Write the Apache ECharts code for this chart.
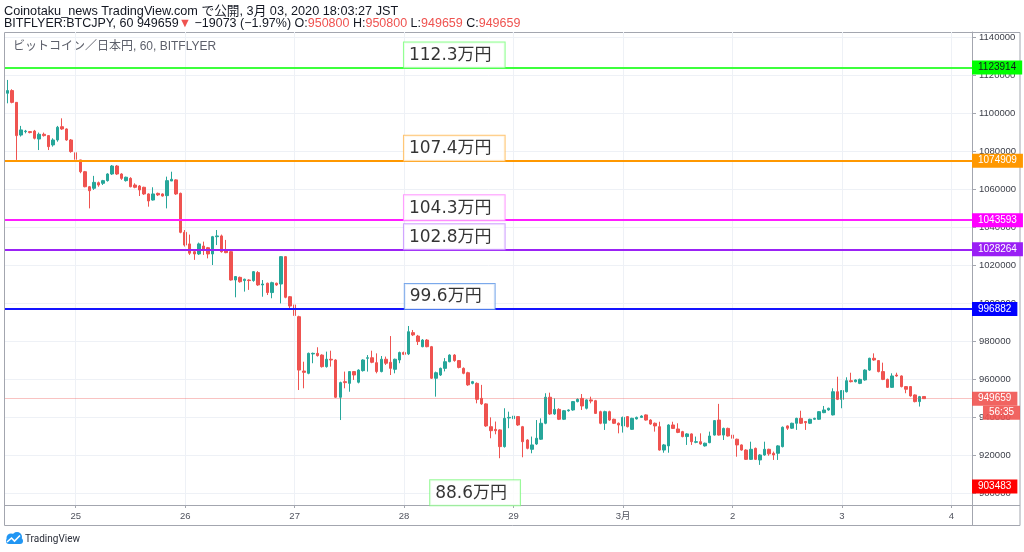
<!DOCTYPE html>
<html><head><meta charset="utf-8">
<script src="https://cdn.jsdelivr.net/npm/echarts@6/dist/echarts.min.js"></script>
<style>html,body{margin:0;padding:0;background:#fff}#c{width:1024px;height:552px}</style>
</head><body><div id="c"></div><script>
// ---- hourly candles [open, close, low, high] (JST) ----
const feb24 = [
[1110400,1111800,1105100,1117400],[1111800,1105600,1105100,1112500],[1105600,1088100,1075300,1105600],
[1088400,1091100,1087600,1093200],[1090200,1090500,1089300,1091100],[1090200,1089700,1089300,1090500],
[1090500,1086700,1086100,1091100],[1086300,1088800,1080500,1089700],[1088800,1088100,1087600,1089700],
[1088100,1082300,1080500,1088400],[1083200,1085800,1082300,1086700],[1085800,1092500,1084900,1093200],
[1092800,1091600,1091100,1097200],[1091600,1085800,1085400,1091900],[1085800,1079700,1079100,1086300]];
const feb25 = [
[1079100,1075600,1073500,1079700],[1075300,1069100,1068300,1075300],[1069100,1061200,1060900,1069500],
[1061200,1059100,1049800,1061600],[1060400,1063500,1059500,1066900],[1063300,1062100,1061200,1063900],
[1063000,1064400,1062100,1064800],[1064400,1067900,1063900,1068300],[1067900,1072100,1067400,1072600],
[1072100,1067900,1067400,1072600],[1067900,1065600,1064800,1068300],[1064400,1066200,1063900,1066500],
[1065600,1061200,1060900,1066200],[1062100,1060900,1060400,1063000],[1061600,1059500,1056300,1062100],
[1060900,1057400,1056900,1061200],[1057400,1053700,1050700,1057700],[1054200,1057400,1053900,1060900],
[1057700,1056900,1056300,1058100],[1057400,1056300,1056000,1057700],[1056500,1064400,1049800,1066500],
[1064200,1065100,1064200,1069100],[1064800,1057400,1056900,1065100],[1057700,1037200,1036700,1058100]];
const feb26 = [
[1037200,1030500,1029700,1038400],[1031100,1026200,1025300,1036000],[1027000,1025800,1022700,1027900],
[1025800,1031100,1025300,1031800],[1030000,1027900,1025300,1032300],[1029100,1025800,1023500,1029500],
[1025800,1034900,1020000,1035300],[1034900,1035300,1030500,1038400],[1035300,1027000,1026500,1036000],
[1027900,1026500,1026200,1033200],[1027000,1012100,1011800,1027500],[1012100,1013900,1003000,1014200],
[1013500,1011200,1010700,1013900],[1011800,1012500,1006000,1012800],[1012100,1011800,1006900,1012500],
[1011800,1016500,1011200,1016800],[1016000,1009500,1009000,1016800],[1009500,1010000,1003300,1012100],
[1010400,1005500,1004200,1010700],[1005500,1010700,1002500,1011200],[1010400,1009500,1009000,1010700],
[1010000,1024400,999800,1024700],[1024400,1003000,1002500,1024700],[1003300,998400,997200,1003700]];
const feb27 = [
[999000,993400,991100,999500],[992800,964700,954200,993300],[964200,963500,955100,969100],
[963000,973500,962500,973900],[973200,973500,968300,973900],[973500,972300,971800,976700],
[972600,966500,966000,973000],[966500,970400,966000,974400],[970400,970000,966500,974900],
[970000,950400,950000,970400],[950400,958100,938400,958600],[958600,958100,955100,963900],
[957700,963900,953300,964200],[963900,962100,959500,964200],[958300,964700,957700,965100],
[964400,970000,963900,970400],[970900,971200,963900,972600],[971200,968800,968300,974900],
[968600,963900,963000,973500],[963900,970400,963500,972100],[970400,968300,967400,971800],
[968800,965600,962100,982600],[965100,970400,963000,970700],[970000,973900,968300,974400]];
const feb28 = [
[973900,973000,972600,974400],[973200,984900,972600,987900],[984400,983200,982600,985800],
[982600,979700,977900,983200],[977000,980500,976700,981000],[980500,977000,976700,981000],
[977000,960400,960000,977400],[960400,963300,950700,963900],[962100,965600,961600,966000],
[965600,969100,964000,971000],[969100,972600,968800,973000],[972600,969700,969100,973100],
[969700,966100,965600,970000],[965600,963000,962500,966100],[963300,956900,956400,963800],
[957700,958600,957200,959000],[957700,949300,947200,958200],[949800,946900,946400,956900],
[946900,935300,934800,947200],[934900,932800,928800,939800],[933500,932800,930900,937600],
[933200,924400,918300,933500],[924400,939300,923900,944600],[939500,939800,934100,942800]];
const feb29 = [
[939100,940500,938400,942800],[940200,935800,935300,940500],[934900,927000,918800,935300],
[927900,923500,923000,928300],[923000,925300,920900,929700],[925800,928800,925300,938400],
[928300,936700,927900,939300],[936700,950400,936200,952500],[950400,941600,941100,952800],
[941600,944000,941100,949800],[944000,938800,938400,944600],[938800,943300,938400,943700],
[943300,943700,942800,944000],[943700,948100,943300,948400],[948100,949300,947700,949800],
[949800,945800,943700,952100],[944600,949000,944000,949300],[949000,948400,947200,950700],
[948600,941900,941600,949000],[942800,936700,936200,943300],[936700,942800,933200,943300],
[942800,938400,938000,943300],[938800,936700,936300,939100],[936700,935800,931400,937100]];
const mar01 = [
[935300,939800,931800,940200],[940200,934900,934500,940500],[933500,939300,933200,939600],
[939000,939800,938700,940200],[939800,940500,939500,940900],[941100,938400,938100,941400],
[938400,936300,935900,938800],[936700,935300,932300,937100],[934900,922600,922300,937500],
[922600,925300,921200,925800],[924800,935800,921200,936200],[935800,934000,933700,937500],
[933700,931900,931500,936700],[932300,929700,929300,932700],[929700,931100,925300,931500],
[931100,927000,925300,931400],[926700,927000,926200,929700],[927000,925800,925400,931400],
[924800,926200,924400,926500],[926500,930000,926200,932300],[930500,938100,930200,938400],
[938400,930500,930200,946900],[930500,934000,927900,934400],[934000,930000,929700,934400]];
const mar02 = [
[930500,928800,928400,932300],[928300,925300,919100,928600],[925300,922600,922300,925600],
[922600,917700,917400,923000],[917700,923000,917400,927000],[923500,917700,917400,923900],
[917400,920000,914800,920400],[920000,923000,919600,927000],[923000,920600,919600,923300],
[920900,920000,917400,921800],[920900,924800,917400,925200],[924400,934600,924000,935000],
[935300,934100,933200,935600],[934100,936700,933700,937000],[936700,939300,933200,939600],
[939300,936700,936300,943300],[937600,937000,933200,937900],[936700,938800,936300,939100],
[938800,939300,938500,939600],[938800,942800,938500,943100],[942300,943700,942000,945800],
[943700,944600,943300,944900],[941100,953300,940800,955100],[953300,949300,948900,961200]];
const mar03 = [
[949300,953900,944600,954200],[953300,959100,952900,960900],[959100,958600,958200,963300],
[958600,959500,958200,959800],[957700,959800,957300,960200],[959500,964700,959100,965100],
[964700,970900,964300,971200],[970900,970000,969600,973500],[969700,963900,963500,970000],
[963900,959800,959400,968600],[959800,955600,955300,960200],[955600,961600,955300,963000],
[962100,961600,961200,963300],[961600,956000,955600,961900],[956000,954600,952500,956300],
[956000,951100,950700,956300],[951600,948100,947700,951900],[948100,950700,945500,951100],
[950800,949659,949659,950800]];

// ---- levels / tags / annotations ----
const levelPrices  = [1123914, 1074909, 1043593, 1028264, 996882];
const levelColors  = ['#3cff3c', '#ff9800', '#ff1cff', '#9b22f5', '#1414ff'];
const tagColors    = ['#00ff00', '#ff9800', '#ff00ff', '#9a1ff5', '#0000ff'];
const tagText      = ['#131722', '#ffffff', '#ffffff', '#ffffff', '#ffffff'];
const lowTagPrice  = 903483;
const lastPrice    = 949659;
const countdown    = '56:35';
const annoTexts    = ['112.3万円', '107.4万円', '104.3万円', '102.8万円', '99.6万円', '88.6万円'];
const annoAnchor   = [1123914, 1074909, 1043593, 1028264, 996882, 893500];
const annoCat      = [98, 98, 98, 98, 97, 103];
const annoBorder   = ['#73ff73', '#ffb64f', '#ff85ff', '#c48bff', '#5a94e6', '#80f780'];
const dayTickLabels = {'2/25':'25','2/26':'26','2/27':'27','2/28':'28','2/29':'29','3/1':'3月','3/2':'2','3/3':'3','3/4':'4'};
const headerLine1 = 'Coinotaku_news TradingView.com で公開, 3月 03, 2020 18:03:27 JST';
const symbolInfo = 'BITFLYER:BTCJPY, 60 949659';
const changeText = ' −19073 (−1.97%) ';
const ohlc = {O:'950800', H:'950800', L:'949659', C:'949659'};
const subtitle = 'ビットコイン／日本円, 60, BITFLYER';

const Y_MIN = 893684, Y_MAX = 1142632;
const SLOTS = 212;
const startUTC = Date.UTC(2020, 1, 24, 9);
const categories = [];
for (let k = 0; k < SLOTS; k++) {
  const d = new Date(startUTC + k * 3600000);
  const hh = String(d.getUTCHours()).padStart(2, '0');
  categories.push((d.getUTCMonth() + 1) + '/' + d.getUTCDate() + ' ' + hh);
}
const candles = [].concat(feb24, feb25, feb26, feb27, feb28, feb29, mar01, mar02, mar03);
const isDayStart = (i, v) => v.endsWith(' 00');
const dayStarts = categories.filter(v => v.endsWith(' 00'));

const F_UI = '"Liberation Sans", Arial, "Noto Sans CJK JP", sans-serif';
const F_BOX = '"DejaVu Sans", "Noto Sans CJK JP", sans-serif';
const UP = '#26a69a', DOWN = '#ef5350';

function tagLabel(text, bg, fg) {
  return {show: true, position: 'end', distance: 0, formatter: text, color: fg,
    backgroundColor: bg, padding: [2, 6, 2, 6], fontSize: 10, lineHeight: 10, fontFamily: F_UI};
}
const levelLines = levelPrices.map((p, i) => ({
  yAxis: p,
  lineStyle: {color: levelColors[i], width: 2, type: 'solid'},
  label: tagLabel(String(p), tagColors[i], tagText[i])
}));
levelLines.push({
  yAxis: lastPrice,
  lineStyle: {color: 'rgba(239,83,80,0.35)', width: 1, type: 'solid'},
  label: tagLabel(String(lastPrice), 'rgba(239,83,80,0.9)', '#ffffff')
});
levelLines.push({
  yAxis: lowTagPrice,
  lineStyle: {color: 'rgba(0,0,0,0)', width: 0},
  label: tagLabel(String(lowTagPrice), '#ff0000', '#ffffff')
});

const chart = echarts.init(document.getElementById('c'), null, {width: 1024, height: 552});
chart.setOption({
  animation: false,
  backgroundColor: '#ffffff',
  grid: {left: 5, right: 52, top: 32, bottom: 47, containLabel: false},
  xAxis: {
    type: 'category', data: categories, boundaryGap: true,
    axisLine: {show: true, lineStyle: {color: '#a3a6af'}},
    axisTick: {show: true, alignWithLabel: true, interval: isDayStart, length: 3, lineStyle: {color: '#a3a6af'}},
    axisLabel: {interval: isDayStart, color: '#50535e', fontSize: 9.5, fontFamily: F_UI, margin: 7,
      formatter: v => dayTickLabels[v.split(' ')[0]] || ''},
    splitLine: {show: false}
  },
  yAxis: {
    type: 'value', position: 'right', min: Y_MIN, max: Y_MAX, splitNumber: 12, scale: true,
    axisLine: {show: true, lineStyle: {color: '#a3a6af'}},
    axisTick: {show: true, length: 4, lineStyle: {color: '#a3a6af'}},
    axisLabel: {color: '#3d404a', fontSize: 9.5, fontFamily: F_UI, margin: 7, showMinLabel: false, showMaxLabel: false,
      formatter: v => (Math.abs(v % 20000) < 1 ? String(Math.round(v)) : '')},
    splitLine: {show: true, lineStyle: {color: '#eef1f6'}}
  },
  series: [
    {
      type: 'line', data: [], z: 1, silent: true,
      markLine: {silent: true, symbol: 'none', animation: false, label: {show: false},
        lineStyle: {color: '#eef1f6', width: 1, type: 'solid'},
        data: dayStarts.map(v => ({xAxis: v}))}
    },
    {
      type: 'candlestick', data: candles, z: 3, barWidth: 3,
      itemStyle: {color: UP, color0: DOWN, borderColor: UP, borderColor0: DOWN, borderWidth: 1},
      markLine: {silent: true, symbol: 'none', animation: false, data: levelLines}
    },
    {
      type: 'scatter', z: 5, symbolSize: 0, clip: false, silent: true,
      data: annoTexts.map((t, i) => ({
        value: [annoCat[i], annoAnchor[i]],
        label: {show: true, position: 'top', distance: 0, formatter: t,
          offset: i === 5 ? [-2, 0] : [0, 0],
          color: '#000000', fontSize: 17, lineHeight: 18, fontFamily: F_BOX,
          backgroundColor: '#ffffff', borderColor: annoBorder[i], borderWidth: 1,
          padding: [4, 13, 3, 5]}
      }))
    }
  ]
});

const yLast = chart.convertToPixel({yAxisIndex: 0}, lastPrice);
chart.setOption({
  graphic: [
    {id: 'frame', type: 'rect', silent: true, z: 0, shape: {x: 4.5, y: 32.5, width: 1015.5, height: 493},
      style: {fill: 'none', stroke: '#a3a6af', lineWidth: 1}},
    {id: 'pricesep', type: 'line', silent: true, shape: {x1: 972.5, y1: 32, x2: 972.5, y2: 526},
      style: {stroke: '#a3a6af', lineWidth: 1}},
    {id: 'timesep', type: 'line', silent: true, shape: {x1: 4, y1: 505.5, x2: 1020, y2: 505.5},
      style: {stroke: '#a3a6af', lineWidth: 1}},
    {id: 'h1', type: 'text', silent: true, style: {text: headerLine1, x: 4, y: 11.5, verticalAlign: 'middle',
      font: '12.7px ' + F_UI, fill: '#131722'}},
    {id: 'h2', type: 'text', silent: true, style: {
      text: '{n|' + symbolInfo + '}{r|▼}{n|' + changeText + 'O:}{r|' + ohlc.O + '}{n| H:}{r|' + ohlc.H +
            '}{n| L:}{r|' + ohlc.L + '}{n| C:}{r|' + ohlc.C + '}',
      x: 4, y: 23.5, verticalAlign: 'middle', font: '12.5px ' + F_UI,
      rich: {n: {fill: '#131722', font: '12.5px ' + F_UI}, r: {fill: '#ef5350', font: '12.5px ' + F_UI}}}},
    {id: 'sub', type: 'text', silent: true, style: {text: subtitle, x: 13, y: 47, verticalAlign: 'middle',
      font: '12px ' + F_UI, fill: '#5d606b'}},
    {id: 'cd', type: 'text', silent: true, z: 10, style: {text: countdown, x: 1020, y: yLast + 7, align: 'right',
      verticalAlign: 'top', font: '10px ' + F_UI, fill: '#ffffff', backgroundColor: 'rgba(239,83,80,0.9)',
      padding: [2, 6, 2, 6], lineHeight: 10}},
    {id: 'logo', type: 'group', x: 4, y: 532, silent: true, children: [
      {type: 'circle', shape: {cx: 7, cy: 6, r: 4.5}, style: {fill: '#2196f3'}},
      {type: 'circle', shape: {cx: 13, cy: 5, r: 5}, style: {fill: '#2196f3'}},
      {type: 'rect', shape: {x: 2, y: 6, width: 17, height: 6, r: 3}, style: {fill: '#2196f3'}},
      {type: 'polyline', shape: {points: [[3, 10], [7.5, 6], [10.5, 9], [16, 3.5]]},
        style: {stroke: '#ffffff', lineWidth: 1.6, fill: 'none'}}
    ]},
    {id: 'logotext', type: 'text', silent: true, style: {text: 'TradingView', x: 25, y: 539, verticalAlign: 'middle',
      font: '10px Roboto, ' + F_UI, fill: '#2a2e39'}}
  ]
});
</script></body></html>
